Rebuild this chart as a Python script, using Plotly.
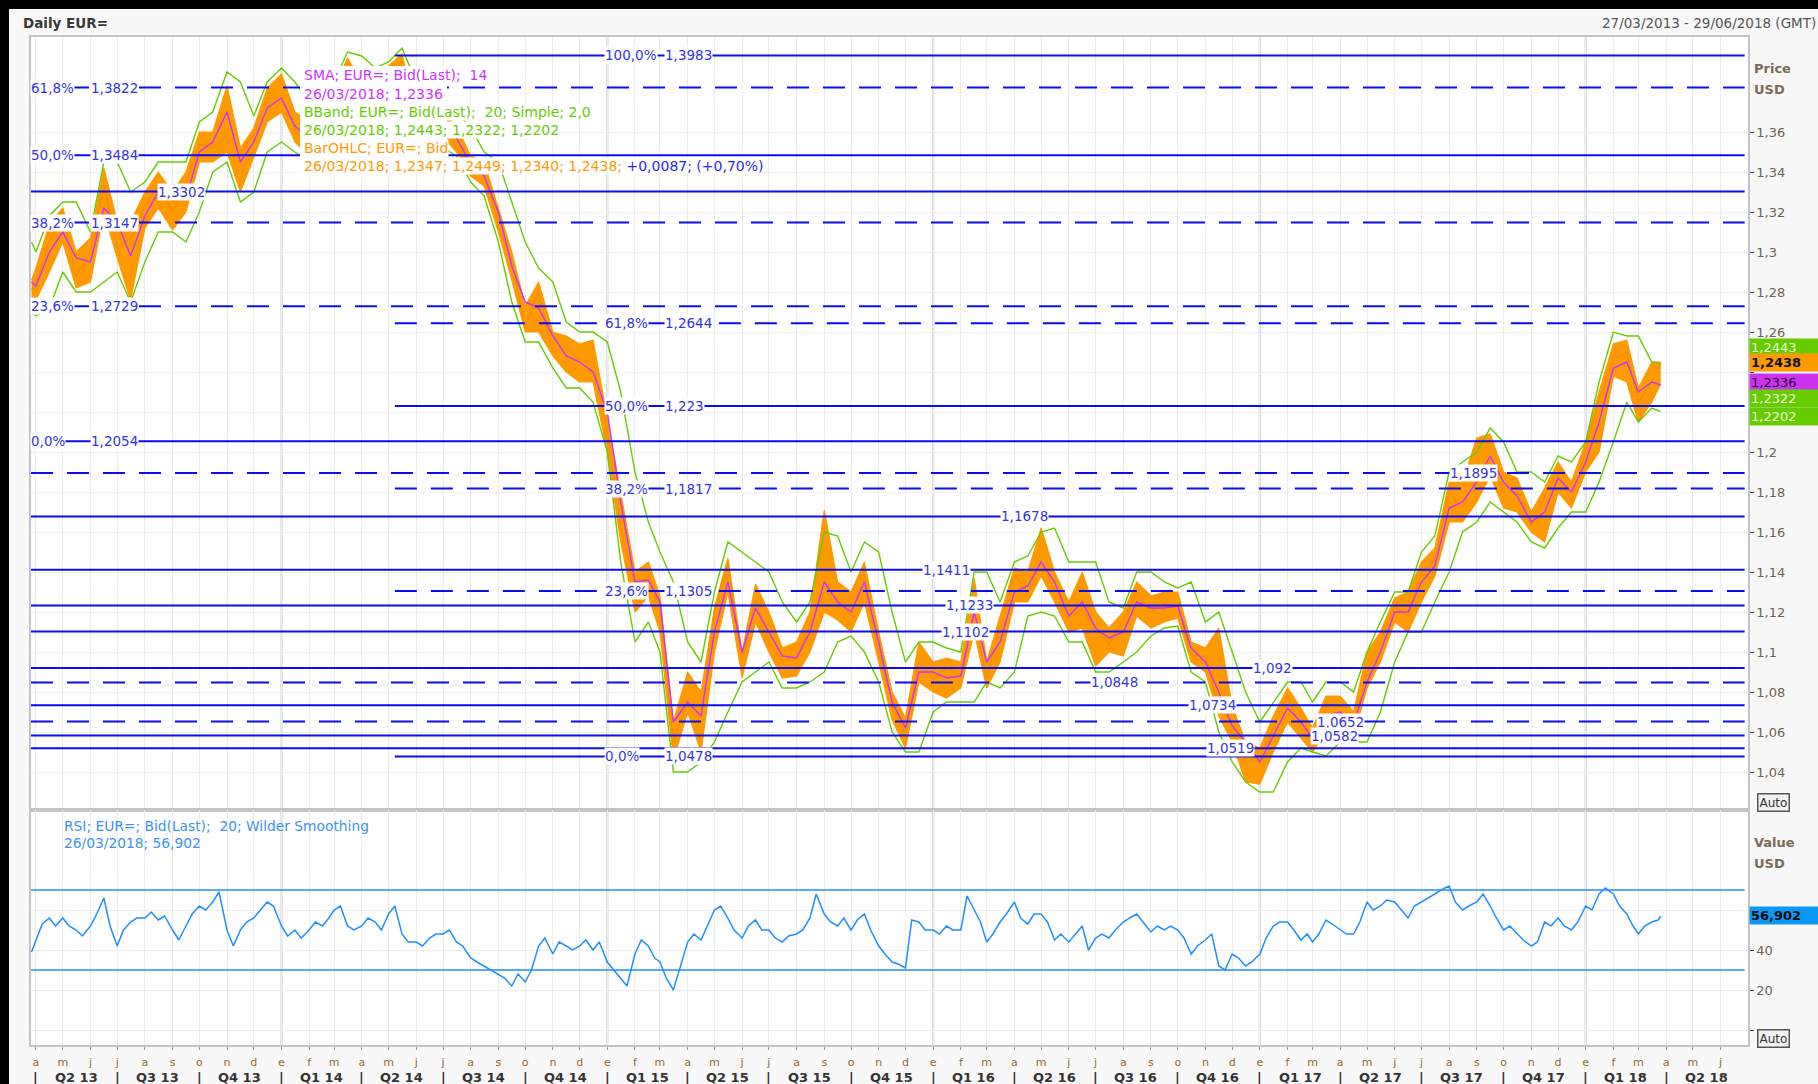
import numpy as np
import pandas as pd
import plotly.graph_objects as go
from plotly.subplots import make_subplots

# ---------------------------------------------------------------- data
# price sampling grid: 1st and 16th of each month (plus first / last session)
sample_dates = (["2013-03-27"] +
                [f"{y}-{m:02d}-{d:02d}" for y in range(2013, 2019) for m in range(1, 13) for d in (1, 16)
                 if (2013, 4) <= (y, m) <= (2018, 3)] +
                ["2018-03-26"])

close = [
    1.281, 1.284, 1.305, 1.317, 1.288, 1.300, 1.334, 1.302, 1.307, 1.323, 1.334, 1.320, 1.334, 1.354, 1.352, 1.358, 1.350, 1.359, 1.377,
    1.377, 1.362, 1.349, 1.369, 1.380, 1.391, 1.377, 1.382, 1.387, 1.370, 1.363, 1.357, 1.368, 1.352, 1.342, 1.340, 1.313, 1.296, 1.262, 1.280, 1.250, 1.252, 1.246, 1.245,
    1.210, 1.162, 1.133, 1.138, 1.120, 1.055, 1.076, 1.067, 1.120, 1.144, 1.095, 1.126, 1.105, 1.095, 1.098, 1.113, 1.130, 1.127, 1.118, 1.138, 1.100, 1.076, 1.058, 1.095,
    1.086, 1.092, 1.088, 1.116, 1.087, 1.111, 1.139, 1.129, 1.146, 1.131, 1.118, 1.121, 1.112, 1.104, 1.116, 1.129, 1.120, 1.124, 1.123, 1.098, 1.098, 1.072, 1.065, 1.045,
    1.046, 1.062, 1.078, 1.062, 1.055, 1.073, 1.066, 1.062, 1.090, 1.105, 1.123, 1.118, 1.140, 1.146, 1.180, 1.172, 1.188, 1.195, 1.180, 1.180, 1.163, 1.178, 1.190, 1.175,
    1.201, 1.226, 1.246, 1.250, 1.225, 1.235, 1.2438]
high = [
    1.286, 1.292, 1.314, 1.322, 1.300, 1.307, 1.342, 1.315, 1.315, 1.330, 1.340, 1.330, 1.340, 1.360, 1.360, 1.383, 1.352, 1.362, 1.382,
    1.389, 1.370, 1.365, 1.372, 1.382, 1.397, 1.385, 1.392, 1.393, 1.399, 1.368, 1.365, 1.370, 1.363, 1.348, 1.345, 1.322, 1.300, 1.273, 1.285, 1.260, 1.258, 1.254, 1.256,
    1.217, 1.180, 1.140, 1.145, 1.128, 1.065, 1.090, 1.080, 1.122, 1.147, 1.100, 1.134, 1.120, 1.102, 1.105, 1.120, 1.171, 1.135, 1.130, 1.145, 1.110, 1.080, 1.067, 1.105,
    1.095, 1.097, 1.095, 1.137, 1.095, 1.118, 1.142, 1.140, 1.162, 1.140, 1.125, 1.140, 1.120, 1.112, 1.120, 1.135, 1.128, 1.130, 1.130, 1.105, 1.102, 1.112, 1.073, 1.055,
    1.052, 1.068, 1.082, 1.072, 1.062, 1.078, 1.078, 1.070, 1.100, 1.110, 1.127, 1.130, 1.145, 1.152, 1.185, 1.185, 1.207, 1.209, 1.190, 1.187, 1.170, 1.182, 1.195, 1.185,
    1.205, 1.230, 1.254, 1.256, 1.232, 1.245, 1.2449]
low = [
    1.275, 1.276, 1.290, 1.305, 1.282, 1.285, 1.320, 1.297, 1.276, 1.312, 1.322, 1.311, 1.320, 1.345, 1.345, 1.350, 1.330, 1.347, 1.365,
    1.370, 1.355, 1.348, 1.355, 1.370, 1.384, 1.371, 1.375, 1.380, 1.368, 1.358, 1.351, 1.358, 1.350, 1.338, 1.333, 1.310, 1.286, 1.260, 1.260, 1.248, 1.240, 1.235, 1.235,
    1.200, 1.155, 1.120, 1.128, 1.110, 1.046, 1.070, 1.050, 1.100, 1.130, 1.087, 1.115, 1.100, 1.087, 1.088, 1.100, 1.120, 1.116, 1.110, 1.125, 1.095, 1.066, 1.052, 1.085,
    1.080, 1.077, 1.082, 1.110, 1.082, 1.095, 1.125, 1.125, 1.138, 1.125, 1.110, 1.112, 1.093, 1.100, 1.098, 1.118, 1.112, 1.115, 1.117, 1.095, 1.090, 1.068, 1.055, 1.035,
    1.034, 1.050, 1.065, 1.057, 1.050, 1.060, 1.062, 1.058, 1.082, 1.095, 1.115, 1.110, 1.125, 1.138, 1.165, 1.165, 1.175, 1.188, 1.172, 1.170, 1.160, 1.155, 1.180, 1.172,
    1.190, 1.200, 1.238, 1.235, 1.215, 1.225, 1.2340]
sma14 = [
    1.285, 1.283, 1.300, 1.310, 1.297, 1.295, 1.322, 1.315, 1.298, 1.318, 1.330, 1.326, 1.327, 1.350, 1.355, 1.370, 1.345, 1.355, 1.372,
    1.377, 1.363, 1.357, 1.365, 1.375, 1.388, 1.380, 1.382, 1.385, 1.380, 1.364, 1.360, 1.363, 1.357, 1.344, 1.338, 1.320, 1.293, 1.275, 1.272, 1.258, 1.248, 1.245, 1.240,
    1.220, 1.175, 1.135, 1.136, 1.125, 1.065, 1.075, 1.068, 1.110, 1.135, 1.100, 1.122, 1.110, 1.098, 1.097, 1.110, 1.135, 1.125, 1.120, 1.135, 1.105, 1.075, 1.062, 1.090,
    1.090, 1.087, 1.088, 1.120, 1.095, 1.105, 1.130, 1.133, 1.145, 1.135, 1.118, 1.125, 1.112, 1.107, 1.110, 1.125, 1.122, 1.122, 1.123, 1.102, 1.095, 1.080, 1.063, 1.055,
    1.045, 1.058, 1.072, 1.065, 1.057, 1.068, 1.070, 1.064, 1.085, 1.100, 1.120, 1.120, 1.135, 1.143, 1.172, 1.175, 1.185, 1.198, 1.185, 1.178, 1.165, 1.170, 1.187, 1.180,
    1.195, 1.215, 1.242, 1.245, 1.230, 1.235, 1.2336]
bb_upper = [
    1.305, 1.300, 1.318, 1.325, 1.325, 1.310, 1.345, 1.345, 1.330, 1.335, 1.345, 1.345, 1.345, 1.365, 1.370, 1.390, 1.385, 1.368, 1.385,
    1.392, 1.385, 1.375, 1.378, 1.385, 1.400, 1.398, 1.392, 1.395, 1.402, 1.385, 1.370, 1.372, 1.370, 1.362, 1.350, 1.345, 1.325, 1.305, 1.292, 1.285, 1.265, 1.260, 1.260,
    1.255, 1.230, 1.190, 1.165, 1.150, 1.135, 1.105, 1.095, 1.130, 1.155, 1.150, 1.145, 1.140, 1.125, 1.115, 1.125, 1.160, 1.158, 1.140, 1.155, 1.150, 1.120, 1.095, 1.105,
    1.105, 1.102, 1.100, 1.140, 1.140, 1.125, 1.145, 1.148, 1.160, 1.162, 1.145, 1.145, 1.145, 1.125, 1.122, 1.140, 1.140, 1.135, 1.132, 1.135, 1.115, 1.120, 1.100, 1.080,
    1.065, 1.075, 1.085, 1.085, 1.075, 1.085, 1.085, 1.080, 1.100, 1.115, 1.130, 1.130, 1.150, 1.158, 1.190, 1.195, 1.200, 1.212, 1.205, 1.190, 1.190, 1.185, 1.198, 1.195,
    1.205, 1.235, 1.260, 1.258, 1.258, 1.245, 1.2443]
bb_lower = [
    1.270, 1.268, 1.272, 1.290, 1.280, 1.280, 1.285, 1.290, 1.275, 1.295, 1.310, 1.310, 1.305, 1.320, 1.340, 1.345, 1.325, 1.330, 1.350,
    1.355, 1.350, 1.345, 1.345, 1.355, 1.365, 1.368, 1.370, 1.375, 1.365, 1.355, 1.350, 1.352, 1.348, 1.335, 1.328, 1.305, 1.275, 1.255, 1.255, 1.242, 1.232, 1.232, 1.225,
    1.200, 1.145, 1.105, 1.115, 1.100, 1.040, 1.040, 1.045, 1.055, 1.070, 1.085, 1.090, 1.095, 1.082, 1.082, 1.085, 1.090, 1.105, 1.108, 1.100, 1.085, 1.060, 1.050, 1.050,
    1.070, 1.075, 1.075, 1.075, 1.085, 1.082, 1.090, 1.118, 1.120, 1.118, 1.105, 1.105, 1.090, 1.090, 1.095, 1.100, 1.108, 1.112, 1.113, 1.090, 1.085, 1.060, 1.045, 1.035,
    1.030, 1.030, 1.045, 1.052, 1.050, 1.048, 1.055, 1.055, 1.055, 1.070, 1.095, 1.110, 1.110, 1.125, 1.140, 1.160, 1.165, 1.175, 1.170, 1.165, 1.155, 1.152, 1.162, 1.170,
    1.170, 1.185, 1.205, 1.225, 1.215, 1.222, 1.2202]

# RSI sampling grid: days 1, 8, 16 and 23 of each month (plus first / last session)
rsi_dates = (["2013-03-27"] +
             [f"{y}-{m:02d}-{d:02d}" for y in range(2013, 2019) for m in range(1, 13) for d in (1, 8, 16, 23)
              if (2013, 4) <= (y, m) <= (2018, 3)] +
             ["2018-03-26"])
rsi20 = [39,
    45, 53, 56, 52,  56, 52, 50, 47,  52, 58, 66, 52,  42, 50, 54, 56,  56, 59, 55, 57,  50, 45, 52, 58,
    62, 60, 64, 69,  50, 42, 50, 54,  56, 60, 64, 62,
    52, 47, 50, 46,  50, 54, 52, 56,  60, 62, 52, 50,  52, 56, 54, 50,  58, 62, 48, 44,  44, 42, 46, 48,
    48, 50, 44, 42,  36, 34, 32, 30,  28, 26, 22, 28,  24, 30, 42, 46,  38, 44, 42, 40,  42, 45, 40, 44,
    34, 30, 26, 22,  38, 45, 42, 36,  34, 26, 20, 30,  44, 48, 45, 52,  60, 62, 56, 50,  46, 52, 55, 50,
    50, 46, 44, 47,  48, 50, 56, 68,  58, 54, 52, 56,  50, 55, 58, 50,  42, 38, 34, 33,  31, 55, 54, 50,
    50, 48, 52, 50,  50, 67, 60, 54,  44, 48, 54, 58,  64, 56, 53, 58,  58, 54, 45, 48,  44, 48, 52, 40,
    46, 48, 46, 50,  54, 56, 58, 54,  49, 52, 50, 52,  50, 46, 38, 42,  45, 48, 32, 30,  38, 36, 32, 34,
    38, 46, 52, 54,  54, 50, 45, 48,  44, 48, 55, 53,  50, 48, 48, 54,  64, 60, 62, 65,  64, 60, 56, 62,
    64, 66, 68, 70,  72, 64, 60, 62,  64, 68, 62, 56,  50, 52, 48, 45,  42, 44, 54, 52,  56, 52, 50, 54,
    62, 60, 68, 71,  68, 62, 58, 52,  48, 52, 54, 55,
    56.902]

# Fibonacci set 1 (drawn across the whole chart)
fib1_levels = [1.3822, 1.3484, 1.3147, 1.2729, 1.2054]
fib1_pct = ["61,8%", "50,0%", "38,2%", "23,6%", "0,0%"]
fib1_text = ["1,3822", "1,3484", "1,3147", "1,2729", "1,2054"]
fib1_dashed = [True, False, True, True, False]
# Fibonacci set 2 (from the May 2014 high)
fib2_start = "2014-05-08"
fib2_levels = [1.3983, 1.2644, 1.223, 1.1817, 1.1305, 1.0478]
fib2_pct = ["100,0%", "61,8%", "50,0%", "38,2%", "23,6%", "0,0%"]
fib2_text = ["1,3983", "1,2644", "1,223", "1,1817", "1,1305", "1,0478"]
fib2_dashed = [False, True, False, True, True, False]
# other horizontal levels
level_values = [1.3302, 1.1895, 1.1678, 1.1411, 1.1233, 1.1102, 1.092, 1.0848, 1.0734, 1.0652, 1.0582, 1.0519]
level_text = ["1,3302", "1,1895", "1,1678", "1,1411", "1,1233", "1,1102", "1,092", "1,0848", "1,0734", "1,0652", "1,0582", "1,0519"]
level_dashed = [False, True, False, False, False, False, False, True, False, True, False, False]

price_ticks = [1.04, 1.06, 1.08, 1.10, 1.12, 1.14, 1.16, 1.18, 1.20, 1.22, 1.24, 1.26, 1.28, 1.30, 1.32, 1.34, 1.36]
price_tick_text = ["1,04", "1,06", "1,08", "1,1", "1,12", "1,14", "1,16", "1,18", "1,2", "", "",
                   "1,26", "1,28", "1,3", "1,32", "1,34", "1,36"]
rsi_ticks = [0, 20, 40, 60]
rsi_tick_text = ["", "20", "40", ""]
rsi_levels = [70, 30]
month_initials = ["e", "f", "m", "a", "m", "j", "j", "a", "s", "o", "n", "d"]
quarter_labels = ["Q2 13", "Q3 13", "Q4 13", "Q1 14", "Q2 14", "Q3 14", "Q4 14", "Q1 15", "Q2 15", "Q3 15",
                  "Q4 15", "Q1 16", "Q2 16", "Q3 16", "Q4 16", "Q1 17", "Q2 17", "Q3 17", "Q4 17", "Q1 18", "Q2 18"]
year_starts = ["2014-01-01", "2015-01-01", "2016-01-01", "2017-01-01", "2018-01-01"]

# ---------------------------------------------------------------- geometry
W, H = 1818, 1084
ML, MR, MT, MB = 31, 70, 37, 39
PW, PH = W - ML - MR, H - MT - MB
SPLIT = 810  # pixel row between price and RSI panes


def px(x):
    return (x - ML) / PW


def py(y):
    return (H - MB - y) / PH


X_RANGE = ["2013-03-26 10:00", "2018-07-01 19:00"]
LINE_END = "2018-06-28"
ORANGE, MAGENTA, GREEN = "#ff9900", "#cc33ff", "#66cc00"
BLUE, LBLUE, RSIBLUE = "#0c0cf0", "#3434e0", "#1f8fff"
FONT = "DejaVu Sans"

fig = make_subplots(rows=2, cols=1, shared_xaxes=True, vertical_spacing=0)

# daily bar range drawn as a ribbon between lows and highs, close on top
fig.add_trace(go.Scatter(x=sample_dates, y=low, mode="lines", line=dict(color=ORANGE, width=1.2),
                         hoverinfo="skip"), row=1, col=1)
fig.add_trace(go.Scatter(x=sample_dates, y=high, mode="lines", line=dict(color=ORANGE, width=1.2),
                         fill="tonexty", fillcolor=ORANGE, hoverinfo="skip"), row=1, col=1)
fig.add_trace(go.Scatter(x=sample_dates, y=close, mode="lines", line=dict(color="#f59000", width=1.5),
                         hoverinfo="skip"), row=1, col=1)
fig.add_trace(go.Scatter(x=sample_dates, y=sma14, mode="lines", line=dict(color=MAGENTA, width=1.4),
                         hoverinfo="skip"), row=1, col=1)
fig.add_trace(go.Scatter(x=sample_dates, y=bb_upper, mode="lines", line=dict(color=GREEN, width=1.4),
                         hoverinfo="skip"), row=1, col=1)
fig.add_trace(go.Scatter(x=sample_dates, y=bb_lower, mode="lines", line=dict(color=GREEN, width=1.4),
                         hoverinfo="skip"), row=1, col=1)
fig.add_trace(go.Scatter(x=rsi_dates, y=rsi20, mode="lines", line=dict(color=RSIBLUE, width=1.5),
                         hoverinfo="skip"), row=2, col=1)

shapes = []
for ys in year_starts:
    shapes.append(dict(type="line", xref="x", yref="paper", x0=ys, x1=ys, y0=0, y1=1,
                       line=dict(color="#dedede", width=2.5), layer="below"))


def hline(level, x0, dashed):
    shapes.append(dict(type="line", xref="x", yref="y", x0=x0, x1=LINE_END, y0=level, y1=level,
                       line=dict(color=BLUE, width=2, dash="22px,14px" if dashed else "solid"), layer="above"))


for lv, d in zip(fib1_levels, fib1_dashed):
    hline(lv, X_RANGE[0], d)
for lv, d in zip(level_values, level_dashed):
    hline(lv, X_RANGE[0], d)
for lv, d in zip(fib2_levels, fib2_dashed):
    hline(lv, fib2_start, d)
for lv in rsi_levels:
    shapes.append(dict(type="line", xref="x", yref="y2", x0=X_RANGE[0], x1=LINE_END, y0=lv, y1=lv,
                       line=dict(color=RSIBLUE, width=1.5), layer="above"))
# legend box (white) covering the data behind the study legend
shapes.append(dict(type="rect", xref="paper", yref="paper", x0=px(300), x1=px(447), y0=py(174), y1=py(66),
                   fillcolor="white", line=dict(width=0), layer="above"))
# black frame of the screenshot
shapes.append(dict(type="rect", xref="paper", yref="paper", x0=px(-5), x1=px(9), y0=py(H + 5), y1=py(-5),
                   fillcolor="black", line=dict(width=0), layer="above"))
shapes.append(dict(type="rect", xref="paper", yref="paper", x0=px(-5), x1=px(W + 5), y0=py(9), y1=py(-5),
                   fillcolor="black", line=dict(width=0), layer="above"))

ann = []


def label(text, xpix, y, yref="y", color=LBLUE, size=13.5, bg="white", bold=False, anchor="left", **kw):
    t = f"<b>{text}</b>" if bold else text
    d = dict(text=t, xref="paper", x=px(xpix), y=y, yref=yref, xanchor=anchor, yanchor="middle",
             showarrow=False, font=dict(family=FONT, size=size, color=color), borderpad=0)
    if bg:
        d["bgcolor"] = bg
    d.update(kw)
    ann.append(d)


for lv, p, t in zip(fib1_levels, fib1_pct, fib1_text):
    label(p, 30, lv)
    label(t, 90, lv)
for lv, p, t in zip(fib2_levels, fib2_pct, fib2_text):
    label(p, 604, lv)
    label(t, 664, lv)
level_x = [157, 1449, 1000, 922, 945, 941, 1252, 1090, 1188, 1316, 1310, 1206]
for lv, t, xp in zip(level_values, level_text, level_x):
    label(t, xp, lv)

# study legends
legend_rows = [
    ("SMA; EUR=; Bid(Last);\u00a0 14", MAGENTA, 75),
    ("26/03/2018; 1,2336", MAGENTA, 94),
    ("BBand; EUR=; Bid(Last);\u00a0 20; Simple; 2,0", GREEN, 112),
    ("26/03/2018; 1,2443; 1,2322; 1,2202", GREEN, 130),
    ("BarOHLC; EUR=; Bid", ORANGE, 148),
    (f"<span style='color:{ORANGE}'>26/03/2018; 1,2347; 1,2449; 1,2340; 1,2438; </span>"
     f"<span style='color:#2a2ae8'>+0,0087; (+0,70%)</span>", ORANGE, 166),
]
for t, col, yp in legend_rows:
    label(t, 303, py(yp), yref="paper", color=col, size=14)
label("RSI; EUR=; Bid(Last);\u00a0 20; Wilder Smoothing", 63, py(826), yref="paper", color="#3a93f0", size=13.8, bg=None)
label("26/03/2018; 56,902", 63, py(843), yref="paper", color="#3a93f0", size=13.8, bg=None)

# header
label("Daily EUR=", 22, py(23), yref="paper", color="#3a3a3a", size=13.5, bg=None, bold=True)
label("27/03/2013 - 29/06/2018 (GMT)", 1601, py(23), yref="paper", color="#555555", size=13.5, bg=None)

# right axis captions
for t, yp in [("Price", 68), ("USD", 89), ("Value", 842), ("USD", 863)]:
    label(t, 1753, py(yp), yref="paper", color="#7b6a55", size=13, bg=None, bold=True)

# last-value boxes
value_boxes = [("1,2443", 347, GREEN, "#eaffd8", False), ("1,2438", 363, ORANGE, "#111111", True),
               ("1,2336", 382, "#cc33ee", "#2a0030", False), ("1,2322", 399, GREEN, "#eaffd8", False),
               ("1,2202", 416, GREEN, "#eaffd8", False), ("56,902", 915, "#0a98f5", "#0a0a0a", True)]
for t, yp, bg, fc, b in value_boxes:
    label(t, 1749, py(yp), yref="paper", color=fc, size=13, bg=bg, bold=b, width=70, align="left", borderpad=1)
for yp in (802, 1038):
    label("Auto", 1757, py(yp), yref="paper", color="#333333", size=12, bg="#f2f2f2",
          bordercolor="#555555", borderwidth=1.5, borderpad=1)

# quarter labels + separators under the month letters
q_starts = pd.date_range("2013-04-01", "2018-04-01", freq="QS")
for qs, ql in zip(q_starts, quarter_labels):
    ann.append(dict(text="<b>|</b>", x=qs, xref="x2", y=py(1077), yref="paper", showarrow=False,
                    xanchor="center", yanchor="middle", font=dict(family=FONT, size=13, color="#333333")))
    ann.append(dict(text=f"<b>{ql}</b>", x=qs + pd.Timedelta(days=45), xref="x2", y=py(1077), yref="paper",
                    showarrow=False, xanchor="center", yanchor="middle",
                    font=dict(family=FONT, size=13, color="#333333")))

month_ticks = pd.date_range("2013-04-01", "2018-06-01", freq="MS")
month_text = [month_initials[d.month - 1] for d in month_ticks]

frame = dict(showline=True, mirror=True, linecolor="#c4c4c4", linewidth=1.5)
fig.update_layout(
    width=W, height=H, margin=dict(l=ML, r=MR, t=MT, b=MB),
    paper_bgcolor="#f8f8f8", plot_bgcolor="#ffffff", showlegend=False, separators=",.",
    font=dict(family=FONT), shapes=shapes, annotations=ann,
    xaxis=dict(range=X_RANGE, tickvals=list(month_ticks), showticklabels=False, ticks="",
               showgrid=True, gridcolor="#ececec", gridwidth=1, **frame),
    xaxis2=dict(range=X_RANGE, tickvals=list(month_ticks), ticktext=month_text, ticks="outside", ticklen=3,
                tickcolor="#999999", tickfont=dict(family=FONT, size=11, color="#8a6d3b"),
                ticklabelstandoff=3, showgrid=True, gridcolor="#ececec", gridwidth=1, **frame),
    yaxis=dict(domain=[py(SPLIT), 1], range=[1.021, 1.4075], side="right", tickvals=price_ticks,
               ticktext=price_tick_text, ticks="outside", ticklen=4, tickcolor="#444444",
               tickfont=dict(family=FONT, size=13, color="#6e6253"), showgrid=True, gridcolor="#efefef",
               zeroline=False, **frame),
    yaxis2=dict(domain=[0, py(SPLIT)], range=[-7.5, 110], side="right", tickvals=rsi_ticks,
                ticktext=rsi_tick_text, ticks="outside", ticklen=4, tickcolor="#444444",
                tickfont=dict(family=FONT, size=13, color="#6e6253"), showgrid=True, gridcolor="#efefef",
                zeroline=False, **frame),
)

fig.write_html("out.html", config={"displayModeBar": False},
               post_script="document.body.style.margin='0';document.body.style.overflow='hidden';")
